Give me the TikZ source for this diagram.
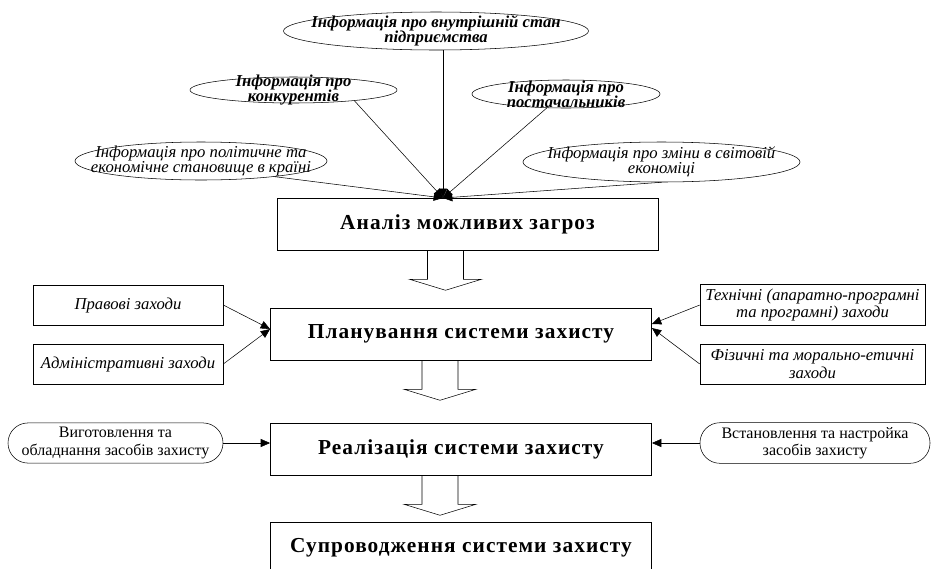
\documentclass[tikz,border=0pt]{standalone}
\usepackage{fontspec}
\setmainfont{Liberation Serif}
\newfontfamily\stagefont{Liberation Serif}[LetterSpace=5]
\usepackage{tikz}
\usetikzlibrary{calc,shapes.geometric,arrows.meta}
\tikzset{
stagebox/.style={draw, minimum width=286pt, minimum height=39pt, font=\fontsize{16}{18}\stagefont\bfseries},
sidebox/.style={draw, minimum height=30pt, align=center, font=\fontsize{12.5}{13}\selectfont\itshape},
roundbox/.style={draw, rounded corners=15pt, minimum height=30pt, align=center, font=\fontsize{12}{13}\selectfont},
infotext/.style={align=center, inner sep=0pt, font=\fontsize{12.5}{11.5}\selectfont\bfseries\itshape},
infoplain/.style={align=center, inner sep=0pt, font=\fontsize{12.5}{11.5}\selectfont\itshape},
info/.style={ellipse, draw, inner sep=0pt},
feed/.style={-{Triangle[length=7pt,width=6pt]}}
}
\newcommand{\hollowarrow}[1]{
\coordinate (tail) at (#1);
\draw ($(tail)+(-18,0)$) -- ($(tail)+(-18,29)$) -- ($(tail)+(-36,29)$)
   -- ($(tail)+(0,40)$)
   -- ($(tail)+(36,29)$) -- ($(tail)+(18,29)$) -- ($(tail)+(18,0)$);
}

\begin{document}
\begin{tikzpicture}[x=0.75pt, y=-0.75pt]
\useasboundingbox (0,0) rectangle (932,568);
\node[stagebox] (anal) at (467.5,224) {Аналіз можливих загроз};
\node[stagebox] (plan) at (461,334) {Планування системи захисту};
\node[stagebox] (real) at (461,449) {Реалізація системи захисту};
\node[stagebox] (supp) at (461,548) {Супроводження системи захисту};
\hollowarrow{$(anal.south)+(-22,0)$}
\hollowarrow{$(plan.south)+(-21,0)$}
\hollowarrow{$(real.south)+(-21,0)$}
\node[info, minimum width=228.75pt, minimum height=28.5pt,
   label={[infotext]center:Інформація про внутрішній стан\\підприємства}] (info1) at (436,31) {};
\node[info, minimum width=155.25pt, minimum height=19.5pt,
   label={[infotext]center:Інформація про\\конкурентів}] (info2) at (293.5,90) {};
\node[info, minimum width=141pt, minimum height=21pt,
   label={[infotext]center:Інформація про\\постачальників}] (info3) at (566,94) {};
\node[info, minimum width=189pt, minimum height=28.5pt,
   label={[infoplain]center:Інформація про політичне та\\економічне становище в країні}] (info4) at (201,161) {};
\node[info, minimum width=207.75pt, minimum height=30pt,
   label={[infoplain]center:Інформація про зміни в світовій\\економіці}] (info5) at (661.5,162) {};
\coordinate (jn) at (443,198);
\draw[feed] (info1.south -| jn) -- (jn);
\draw[feed] (info2.-10) -- (jn);
\draw[feed] (info3.-144) -- (jn);
\draw[feed] (info4.-12) -- (jn);
\draw[feed] (info5.south) -- (jn);
\node[sidebox, minimum width=142.5pt] (law) at (128,305) {Правові заходи};
\node[sidebox, minimum width=142.5pt] (adm) at (128,364) {Адміністративні заходи};
\node[sidebox, minimum width=168.75pt] (tech) at (812.5,305) {Технічні (апаратно-програмні\\та програмні) заходи};
\node[sidebox, minimum width=168.75pt] (phys) at (812.5,364) {Фізичні та морально-етичні\\заходи};
\draw[feed] (law.east) -- ($(plan.west)+(0,-5)$);
\draw[feed] (adm.east) -- ($(plan.west)+(0,-5)$);
\draw[feed] (tech.west) -- ($(plan.east)+(0,-10)$);
\draw[feed] (phys.west) -- ($(plan.east)+(0,-6)$);
\node[roundbox, minimum width=161.25pt] (make) at (115.5,443) {Виготовлення та\\обладнання засобів захисту};
\node[roundbox, minimum width=172.5pt] (setup) at (815,443) {Встановлення та настройка\\засобів захисту};
\draw[feed] (make.east) -- (make.east -| real.west);
\draw[feed] (setup.west) -- (setup.west -| real.east);
\end{tikzpicture}
\end{document}
